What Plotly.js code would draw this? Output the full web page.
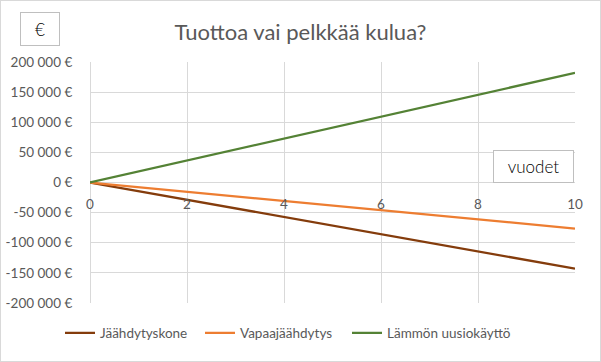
<!DOCTYPE html>
<html>
<head>
<meta charset="utf-8">
<script src="https://cdn.plot.ly/plotly-3.0.1.min.js"></script>
<style>
html,body{margin:0;padding:0;background:#fff;}
#wrap{position:relative;width:601px;height:362px;}
#chart{position:absolute;left:0;top:0;width:601px;height:362px;}
#frame{position:absolute;left:0;top:0;width:599px;height:360px;border:1px solid #d9d9d9;pointer-events:none;}
</style>
</head>
<body>
<div id="wrap"><div id="chart"></div><div id="frame"></div></div>
<script>
const years = [0, 1, 2, 3, 4, 5, 6, 7, 8, 9, 10];
const jaahdytyskone = [0, -14300, -28600, -42900, -57200, -71500, -85800, -100100, -114400, -128700, -143000];
const vapaajaahdytys = [0, -7650, -15300, -22950, -30600, -38250, -45900, -53550, -61200, -68850, -76500];
const lammonUusiokaytto = [0, 18200, 36400, 54600, 72800, 91000, 109200, 127400, 145600, 163800, 182000];
const seriesNames = ['Jäähdytyskone', 'Vapaajäähdytys', 'Lämmön uusiokäyttö'];
const yTickVals = [200000, 150000, 100000, 50000, 0, -50000, -100000, -150000, -200000];
const yTickText = ['200 000 €', '150 000 €', '100 000 €', '50 000 €', '0 €', '-50 000 €', '-100 000 €', '-150 000 €', '-200 000 €'];
const xTickVals = [0, 2, 4, 6, 8, 10];
const titleText = 'Tuottoa vai pelkkää kulua?';
const yUnit = '€';
const xUnit = 'vuodet';

const font = 'Lato, "Open Sans", sans-serif';
const grey = '#595959';
const grid = '#d9d9d9';

const traces = [
  {x: years, y: jaahdytyskone, name: seriesNames[0], legend: 'legend', line: {color: '#843c0c', width: 2.25}},
  {x: years, y: vapaajaahdytys, name: seriesNames[1], legend: 'legend2', line: {color: '#ed7d31', width: 2.25}},
  {x: years, y: lammonUusiokaytto, name: seriesNames[2], legend: 'legend3', line: {color: '#548235', width: 2.25}}
].map(t => Object.assign({type: 'scatter', mode: 'lines', hoverinfo: 'skip', showlegend: true}, t));

function leg(px) {
  return {orientation: 'h', x: (px - 90) / 485, xanchor: 'left', y: -0.1245, yanchor: 'middle',
    itemwidth: 30, font: {family: font, size: 13.5, color: grey}, bgcolor: 'rgba(0,0,0,0)', borderwidth: 0};
}

const layout = {
  width: 601, height: 362,
  margin: {l: 90, r: 26, t: 62, b: 59},
  paper_bgcolor: '#ffffff', plot_bgcolor: '#ffffff',
  font: {family: font, size: 13, color: grey, weight: 400},
  title: {text: titleText, font: {family: font, size: 22, color: grey, weight: 400}, xref: 'container', x: 0.5, xanchor: 'center', y: 1 - 32/362, yanchor: 'middle'},
  xaxis: {
    range: [0, 10], tickvals: xTickVals, showgrid: true, gridcolor: grid, gridwidth: 1,
    zeroline: true, zerolinecolor: grid, showline: false,
    anchor: 'free', position: 0.5, ticks: 'outside', ticklen: 9, tickcolor: 'rgba(0,0,0,0)',
    tickfont: {family: font, size: 13.5, color: grey}, fixedrange: true
  },
  yaxis: {
    range: [-200000, 200000], tickvals: yTickVals, ticktext: yTickText,
    showgrid: true, gridcolor: grid, gridwidth: 1, zeroline: true, zerolinecolor: grid, zerolinewidth: 1,
    showline: false, ticks: 'outside', ticklen: 14, tickcolor: 'rgba(0,0,0,0)',
    tickfont: {family: font, size: 13.5, color: grey}, fixedrange: true
  },
  showlegend: true,
  legend: leg(60),
  legend2: leg(200),
  legend3: leg(347),
  annotations: [
    {text: yUnit, xref: 'paper', yref: 'paper', x: (40 - 90) / 485, y: (303 - 29) / 241, xanchor: 'center', yanchor: 'middle',
     showarrow: false, width: 38, height: 32, bordercolor: '#bfbfbf', borderwidth: 1, borderpad: 0, bgcolor: '#ffffff',
     font: {family: font, size: 17, color: '#000000', weight: 300}},
    {text: xUnit, xref: 'paper', yref: 'paper', x: (533.5 - 90) / 485, y: (303 - 166.5) / 241, xanchor: 'center', yanchor: 'middle',
     showarrow: false, width: 79, height: 31, bordercolor: '#bfbfbf', borderwidth: 1, borderpad: 0, bgcolor: '#ffffff',
     font: {family: font, size: 17, color: '#000000', weight: 300}}
  ]
};

Plotly.newPlot('chart', traces, layout, {displayModeBar: false, staticPlot: true});
</script>
</body>
</html>
